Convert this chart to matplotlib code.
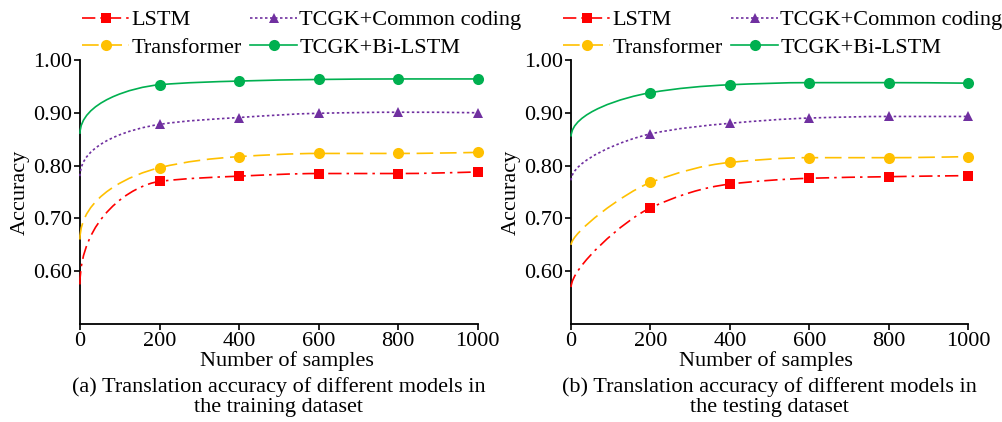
import matplotlib
matplotlib.use("Agg")
import matplotlib.pyplot as plt
import numpy as np
from matplotlib.lines import Line2D
from matplotlib.patches import PathPatch
from matplotlib.path import Path

plt.rcParams['font.family'] = ['Liberation Serif', 'DejaVu Serif']
plt.rcParams['font.size'] = 16

# number of samples (first point is the curve start, no marker there)
samples = [0, 200, 400, 600, 800, 1000]

# (a) training dataset
train_lstm = [0.575, 0.770, 0.780, 0.785, 0.785, 0.788]
train_transformer = [0.66, 0.796, 0.817, 0.823, 0.823, 0.825]
train_common = [0.78, 0.878, 0.891, 0.899, 0.901, 0.900]
train_bilstm = [0.86, 0.953, 0.960, 0.963, 0.964, 0.964]

# (b) testing dataset
test_lstm = [0.57, 0.720, 0.765, 0.776, 0.779, 0.781]
test_transformer = [0.65, 0.768, 0.806, 0.815, 0.815, 0.817]
test_common = [0.772, 0.860, 0.880, 0.890, 0.893, 0.893]
test_bilstm = [0.855, 0.938, 0.953, 0.957, 0.957, 0.956]

names = ["LSTM", "Transformer", "TCGK+Common coding", "TCGK+Bi-LSTM"]
colors = ["#FF0000", "#FFC000", "#7030A0", "#00B050"]
markers = ["s", "o", "^", "o"]
msizes = [7, 8, 7, 8]
dashes = [(0, (8, 3, 1.5, 3)), (0, (10, 4)), (0, (1.5, 1.5)), "solid"]

captions = ["(a) Translation accuracy of different models in\nthe training dataset",
            "(b) Translation accuracy of different models in\nthe testing dataset"]
yticks = [0.6, 0.7, 0.8, 0.9, 1.0]
xticks = [0, 200, 400, 600, 800, 1000]


def smooth_path(xs, ys):
    # cubic bezier through the points; first piece starts vertical
    xs = np.asarray(xs, float)
    ys = np.asarray(ys, float)
    h = np.diff(xs)
    delta = np.diff(ys) / h
    d = np.zeros_like(ys)
    for i in range(1, len(ys) - 1):
        if delta[i - 1] * delta[i] > 0:
            d[i] = 2 / (1 / delta[i - 1] + 1 / delta[i])
    d[-1] = (3 * delta[-1] - delta[-2]) / 2
    if d[-1] * delta[-1] <= 0:
        d[-1] = 0
    bend = np.clip(1 - 2.5 * delta[1] / delta[0], 0.05, 0.65)
    verts = [(xs[0], ys[0]),
             (xs[0], ys[0] + bend * (ys[1] - ys[0])),
             (xs[1] - h[0] / 3, ys[1] - d[1] * h[0] / 3),
             (xs[1], ys[1])]
    codes = [Path.MOVETO] + [Path.CURVE4] * 3
    for i in range(1, len(xs) - 1):
        verts.append((xs[i] + h[i] / 3, ys[i] + d[i] * h[i] / 3))
        verts.append((xs[i + 1] - h[i] / 3, ys[i + 1] - d[i + 1] * h[i] / 3))
        verts.append((xs[i + 1], ys[i + 1]))
        codes += [Path.CURVE4] * 3
    return Path(verts, codes)


fig = plt.figure(figsize=(10.02, 4.22), dpi=100)
ax1 = fig.add_axes([0.0798, 0.232, 0.397, 0.626])
ax2 = fig.add_axes([0.570, 0.232, 0.396, 0.626])

datasets = [[train_lstm, train_transformer, train_common, train_bilstm],
            [test_lstm, test_transformer, test_common, test_bilstm]]

for ax, series, cap, lx, xl in zip([ax1, ax2], datasets, captions,
                                   [0.0, -0.025], [0.52, 0.49]):
    for vals, c, m, ms, ls in zip(series, colors, markers, msizes, dashes):
        ax.add_patch(PathPatch(smooth_path(samples, vals), fill=False,
                               edgecolor=c, linewidth=1.2, linestyle=ls,
                               capstyle='butt', zorder=3, clip_on=False))
        ax.plot(samples[1:], vals[1:], linestyle='none', marker=m,
                markersize=ms, color=c, markeredgewidth=0, zorder=4,
                clip_on=False)

    ax.set_xlim(0, 1000)
    ax.set_ylim(0.5, 1.0)
    ax.set_xticks(xticks)
    ax.set_yticks(yticks)
    ax.set_yticklabels(["%.2f" % t for t in yticks])
    ax.spines['top'].set_visible(False)
    ax.spines['right'].set_visible(False)
    ax.spines['left'].set_linewidth(1.3)
    ax.spines['bottom'].set_linewidth(1.3)
    ax.tick_params(direction='out', length=4, width=1.2, pad=2)
    ax.set_xlabel("Number of samples", labelpad=0)
    ax.xaxis.label.set_x(xl)
    ax.set_ylabel("Accuracy", labelpad=2)

    handles = [Line2D([], [], color=c, linestyle=ls, linewidth=1.2, marker=m,
                      markersize=ms, markeredgewidth=0)
               for c, m, ms, ls in zip(colors, markers, msizes, dashes)]
    ax.legend(handles, names, ncol=2, loc='lower left',
              bbox_to_anchor=(lx, 1.0), frameon=False, borderaxespad=0.0,
              handlelength=2.1, handletextpad=0.1, columnspacing=0.4,
              labelspacing=0.3, borderpad=0.1)

    pos = ax.get_position()
    fig.text(pos.x0 + pos.width / 2, 0.012, cap, ha='center', va='bottom',
             linespacing=1.05)

fig.savefig("out.png", dpi=100)
